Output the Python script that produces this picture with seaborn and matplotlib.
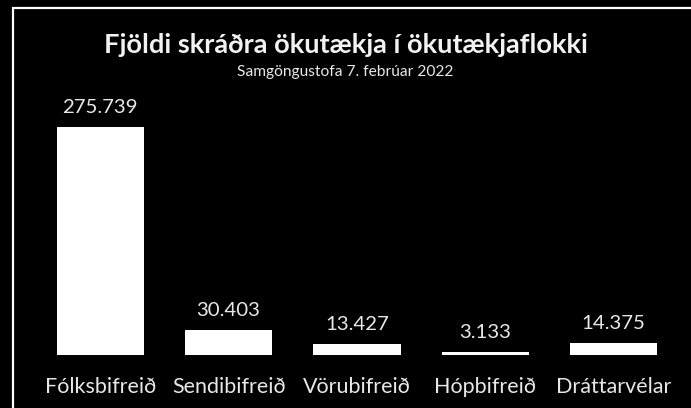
import matplotlib
matplotlib.use("Agg")
import matplotlib.pyplot as plt
import seaborn as sns
import pandas as pd
from matplotlib.patches import Rectangle

categories = ["Fólksbifreið", "Sendibifreið", "Vörubifreið", "Hópbifreið", "Dráttarvélar"]
values = [275739, 30403, 13427, 3133, 14375]
title = "Fjöldi skráðra ökutækja í ökutækjaflokki"
subtitle = "Samgöngustofa 7. febrúar 2022"

sns.set_style("white")
plt.rcParams['font.family'] = ['Lato', 'DejaVu Sans']

W, H = 691, 408
fig = plt.figure(figsize=(W / 100, H / 100), dpi=100, facecolor="black")
# axes: x from 36 to 678 px, y from 355 (bottom) to 100 (top)
ax = fig.add_axes([36 / W, 1 - 355 / H, (678 - 36) / W, (355 - 100) / H])
ax.set_facecolor("black")

df = pd.DataFrame({"cat": categories, "val": values})
sns.barplot(data=df, x="cat", y="val", color="white", saturation=1, width=0.68,
            edgecolor="none", ax=ax)

ax.set_xlim(-0.5, 4.5)
ax.set_ylim(0, 275739 * 255 / 228)
for s in ax.spines.values():
    s.set_visible(False)
ax.set_yticks([])
ax.set_xlabel("")
ax.set_ylabel("")
ax.tick_params(axis="x", length=0, pad=16, labelsize=15.5, labelcolor="#e8e8e8")

labels = [f"{v:,}".replace(",", ".") for v in values]
ax.bar_label(ax.containers[0], labels=labels, padding=8, fontsize=14.7, color="#e8e8e8")

fig.text(0.5, 1 - 45 / H, title, ha="center", va="center", fontsize=19.6,
         fontweight="bold", color="#f2f2f2")
fig.text(0.5, 1 - 72 / H, subtitle, ha="center", va="center", fontsize=11.2,
         color="#e8e8e8")

fig.patches.append(Rectangle((13 / W, -0.1), 1.2, 1.1 - 8 / H, transform=fig.transFigure,
                             fill=False, edgecolor="white", linewidth=1.6, figure=fig))

fig.savefig("out.png", dpi=100, facecolor="black")
